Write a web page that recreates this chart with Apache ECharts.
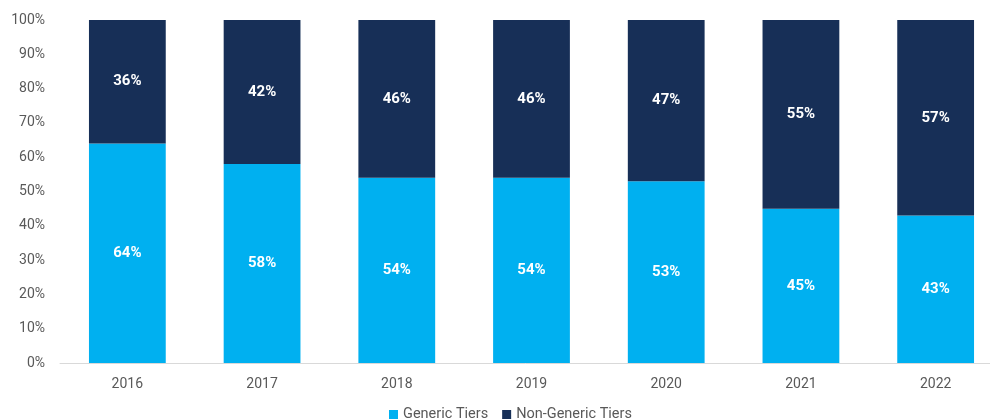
<!DOCTYPE html>
<html><head><meta charset="utf-8">
<script src="https://cdn.jsdelivr.net/npm/echarts@6/dist/echarts.min.js"></script>
<style>html,body{margin:0;padding:0;background:#fff}#c{width:990px;height:419px}</style>
</head><body><div id="c"></div>
<script>
const years = ['2016','2017','2018','2019','2020','2021','2022'];
const generic = [64, 58, 54, 54, 53, 45, 43];
const nonGeneric = [36, 42, 46, 46, 47, 55, 57];
const yTicks = [0,10,20,30,40,50,60,70,80,90,100];

const chart = echarts.init(document.getElementById('c'));
const lbl = {show:true, position:'inside', color:'#fff', fontWeight:'bold', fontSize:15, fontFamily:'Roboto', formatter: p => p.value + '%'};
chart.setOption({
  animation:false,
  textStyle:{fontFamily:'Roboto'},
  grid:{left:60, width:943, top:20, bottom:56, containLabel:false, outerBoundsMode:'none'},
  legend:{bottom:-8, left:384, itemWidth:9, itemHeight:9, icon:'rect', itemGap:14,
    textStyle:{fontSize:14.5, color:'#595959', fontFamily:'Roboto'},
    data:['Generic Tiers','Non-Generic Tiers']},
  xAxis:{type:'category', data:years,
    axisLine:{lineStyle:{color:'#d9d9d9'}}, axisTick:{show:false},
    axisLabel:{color:'#595959', fontSize:14, margin:14}},
  yAxis:{type:'value', min:0, max:100, interval:10,
    splitLine:{show:false}, axisLine:{show:false}, axisTick:{show:false},
    axisLabel:{color:'#595959', fontSize:14, margin:15, formatter: v => yTicks.includes(v) ? v + '%' : ''}},
  series:[
    {name:'Generic Tiers', type:'bar', stack:'a', data:generic, barWidth:'57%',
     itemStyle:{color:'#00B0F0'}, label:lbl},
    {name:'Non-Generic Tiers', type:'bar', stack:'a', data:nonGeneric, barWidth:'57%',
     itemStyle:{color:'#172F57'}, label:lbl}
  ]
});
</script></body></html>
